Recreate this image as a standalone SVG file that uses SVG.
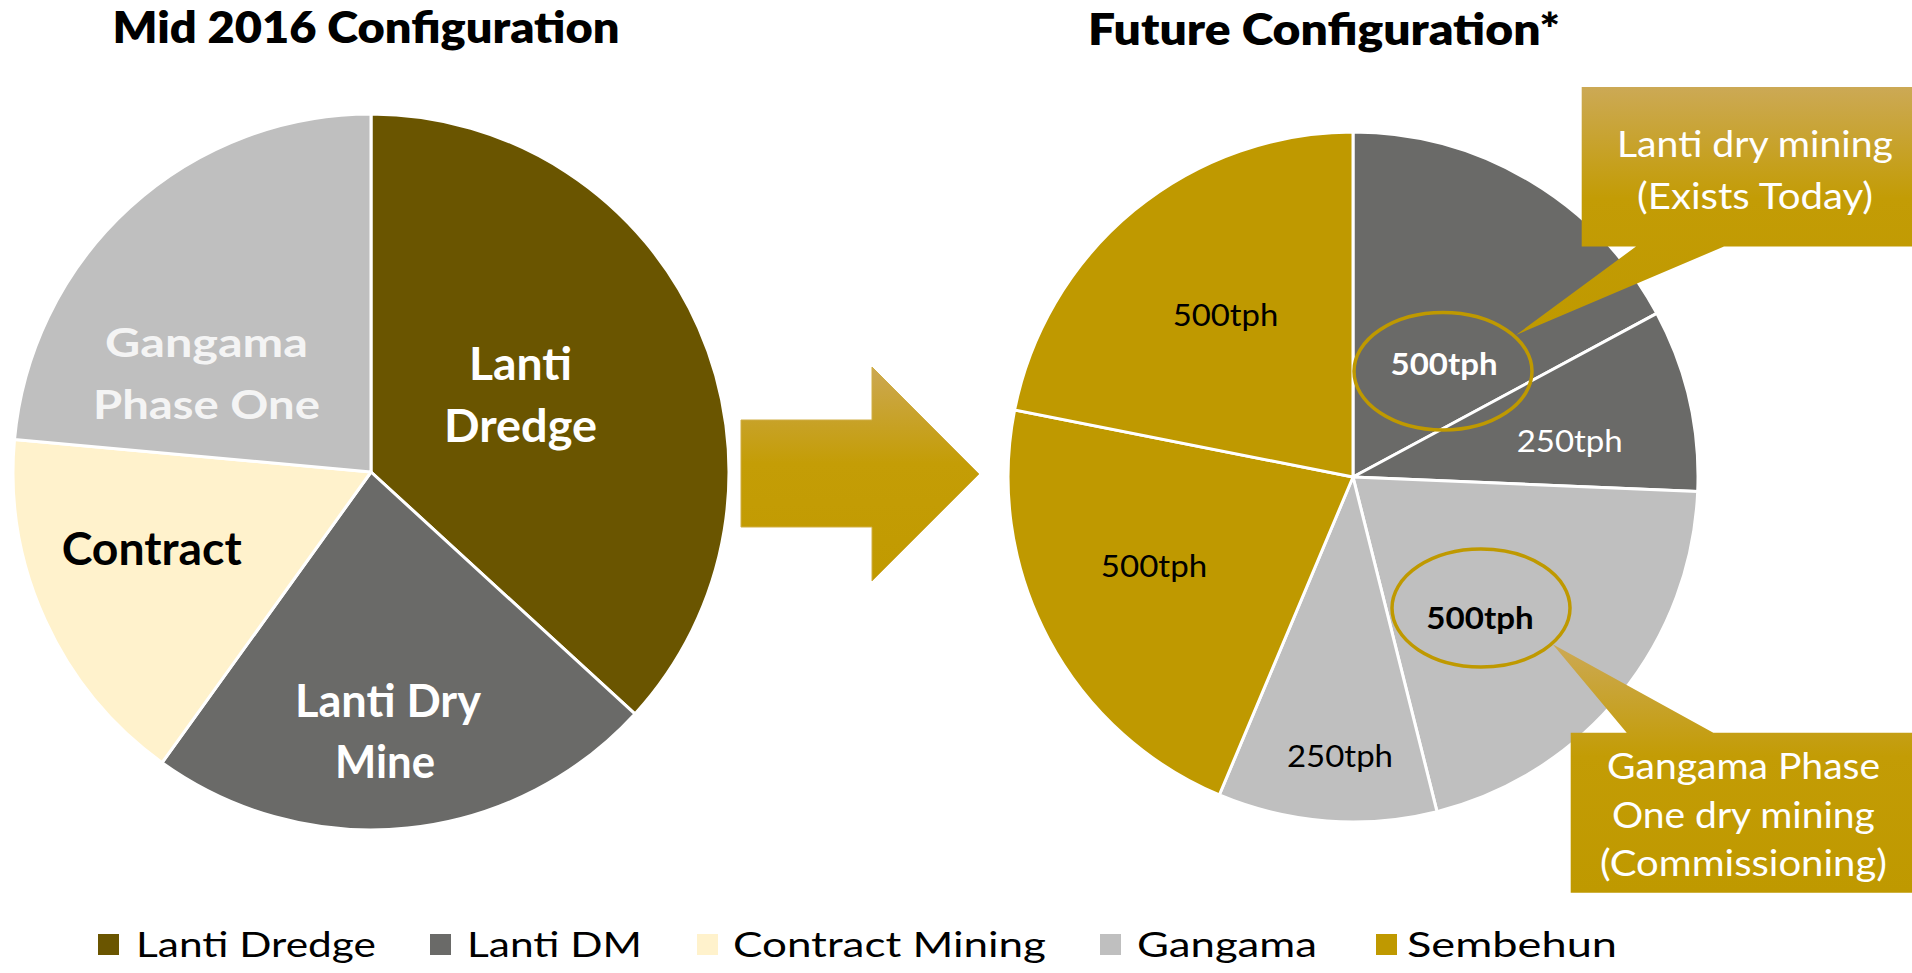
<svg xmlns="http://www.w3.org/2000/svg" width="1912" height="973" viewBox="0 0 1912 973">
<defs>
<linearGradient id="gArrow" x1="0" y1="0" x2="0" y2="1">
<stop offset="0" stop-color="#CCA852"/>
<stop offset="0.45" stop-color="#C49D06"/>
<stop offset="1" stop-color="#C19A00"/>
</linearGradient>
<linearGradient id="gCall" x1="0" y1="0" x2="0" y2="1">
<stop offset="0" stop-color="#CCA955"/>
<stop offset="0.45" stop-color="#C39C05"/>
<stop offset="1" stop-color="#BF9900"/>
</linearGradient>
<style>
text { font-family: Lato, "Liberation Sans", sans-serif; }
.slice { stroke: #FFFFFF; stroke-width: 3; stroke-linejoin: round; }
.ld { fill: #6A5500; }
.dm { fill: #6A6A68; }
.ct { fill: #FFF2CC; }
.gg { fill: #BFBFBF; }
.sb { fill: #BF9900; }
.title { font-weight: 800; font-size: 44px; fill: #000000; text-anchor: middle; }
.lbl { font-weight: 700; font-size: 45px; text-anchor: middle; }
.lbl2 { font-weight: 700; font-size: 41px; text-anchor: middle; fill: #F4F4F4; }
.w { fill: #FFFFFF; }
.k { fill: #000000; }
.tph { font-size: 30px; text-anchor: middle; }
.b { font-weight: 700; }
.call { font-size: 36px; fill: #FFFFFF; text-anchor: middle; }
.leg { font-size: 34px; fill: #000000; }
.ring { fill: none; stroke: #BF9900; stroke-width: 3.5; }
.callout { fill: url(#gCall); }
</style>
</defs>

<g id="title-mid2016">
<text class="title" x="366" y="43" textLength="507" lengthAdjust="spacingAndGlyphs">Mid 2016 Configuration</text>
</g>
<g id="title-future">
<text class="title" x="1324" y="45" textLength="472" lengthAdjust="spacingAndGlyphs">Future Configuration*</text>
</g>

<g id="pie-mid2016">
<g id="slice-lanti-dredge">
<path class="slice ld" d="M371,472 L371,114 A358,358 0 0 1 634.9,713.9 Z"/>
<text class="lbl w" x="520.5" y="380" textLength="103" lengthAdjust="spacingAndGlyphs">Lanti</text>
<text class="lbl w" x="520.5" y="441.7" textLength="153" lengthAdjust="spacingAndGlyphs">Dredge</text>
</g>
<g id="slice-lanti-dry-mine">
<path class="slice dm" d="M371,472 L634.9,713.9 A358,358 0 0 1 162.1,762.7 Z"/>
<text class="lbl w" x="388" y="716.7" textLength="186" lengthAdjust="spacingAndGlyphs">Lanti Dry</text>
<text class="lbl w" x="385" y="778.3" textLength="100" lengthAdjust="spacingAndGlyphs">Mine</text>
</g>
<g id="slice-contract">
<path class="slice ct" d="M371,472 L162.1,762.7 A358,358 0 0 1 14.5,439.6 Z"/>
<text class="lbl k" x="151.7" y="565" textLength="180" lengthAdjust="spacingAndGlyphs">Contract</text>
</g>
<g id="slice-gangama-phase-one">
<path class="slice gg" d="M371,472 L14.5,439.6 A358,358 0 0 1 371,114 Z"/>
<text class="lbl2" x="206.5" y="357" textLength="203" lengthAdjust="spacingAndGlyphs">Gangama</text>
<text class="lbl2" x="206.5" y="419" textLength="227" lengthAdjust="spacingAndGlyphs">Phase One</text>
</g>
</g>

<g id="connectors">
<polygon points="741,420 872,420 872,367 979,474 872,581 872,527 741,527" fill="url(#gArrow)" stroke="#D0AE45" stroke-width="1"/>
</g>

<g id="pie-future">
<g id="slice-lanti-dm-500">
<path class="slice dm" d="M1353,477 L1353,132 A345,345 0 0 1 1656.8,313.4 Z"/>
</g>
<g id="slice-lanti-dm-250">
<path class="slice dm" d="M1353,477 L1656.8,313.4 A345,345 0 0 1 1697.7,491.4 Z"/>
</g>
<g id="slice-gangama-500">
<path class="slice gg" d="M1353,477 L1697.7,491.4 A345,345 0 0 1 1437,811.6 Z"/>
</g>
<g id="slice-gangama-250">
<path class="slice gg" d="M1353,477 L1437,811.6 A345,345 0 0 1 1219.3,795 Z"/>
</g>
<g id="slice-sembehun-lower">
<path class="slice sb" d="M1353,477 L1219.3,795 A345,345 0 0 1 1014.6,410 Z"/>
</g>
<g id="slice-sembehun-upper">
<path class="slice sb" d="M1353,477 L1014.6,410 A345,345 0 0 1 1353,132 Z"/>
</g>
<ellipse class="ring" cx="1443" cy="371.3" rx="89" ry="58.7"/>
<ellipse class="ring" cx="1481" cy="608" rx="89" ry="59"/>
<text class="tph k" x="1225.5" y="325.7" textLength="105.6" lengthAdjust="spacingAndGlyphs">500tph</text>
<text class="tph b w" x="1444" y="375" textLength="107" lengthAdjust="spacingAndGlyphs">500tph</text>
<text class="tph w" x="1569.7" y="452.3" textLength="106" lengthAdjust="spacingAndGlyphs">250tph</text>
<text class="tph k" x="1154" y="577.3" textLength="106.3" lengthAdjust="spacingAndGlyphs">500tph</text>
<text class="tph b k" x="1480" y="629.3" textLength="107.3" lengthAdjust="spacingAndGlyphs">500tph</text>
<text class="tph k" x="1340" y="766.7" textLength="106" lengthAdjust="spacingAndGlyphs">250tph</text>
</g>

<g id="callout-lanti">
<path class="callout" d="M1581.7,87 H1912 V246.5 H1724 L1516,335 L1636,246.5 H1581.7 Z"/>
<text class="call" x="1755" y="157" textLength="276" lengthAdjust="spacingAndGlyphs">Lanti dry mining</text>
<text class="call" x="1755" y="208.5" textLength="236" lengthAdjust="spacingAndGlyphs">(Exists Today)</text>
</g>

<g id="callout-gangama">
<path class="callout" d="M1570.7,732.7 H1626.7 L1552.7,644.3 L1713.3,732.7 H1912 V892.7 H1570.7 Z"/>
<text class="call" x="1743.6" y="778.5" textLength="273" lengthAdjust="spacingAndGlyphs">Gangama Phase</text>
<text class="call" x="1743.4" y="828.3" textLength="263" lengthAdjust="spacingAndGlyphs">One dry mining</text>
<text class="call" x="1743.4" y="876" textLength="287" lengthAdjust="spacingAndGlyphs">(Commissioning)</text>
</g>

<g id="legend">
<g id="legend-lanti-dredge">
<rect x="98" y="934" width="21" height="21" fill="#6A5500"/>
<text class="leg" x="136" y="957" textLength="240" lengthAdjust="spacingAndGlyphs">Lanti Dredge</text>
</g>
<g id="legend-lanti-dm">
<rect x="430" y="934" width="21" height="21" fill="#6A6A68"/>
<text class="leg" x="467" y="957" textLength="175" lengthAdjust="spacingAndGlyphs">Lanti DM</text>
</g>
<g id="legend-contract">
<rect x="697" y="934" width="21" height="21" fill="#FFF2CC"/>
<text class="leg" x="733" y="957" textLength="313" lengthAdjust="spacingAndGlyphs">Contract Mining</text>
</g>
<g id="legend-gangama">
<rect x="1100" y="934" width="21" height="21" fill="#BFBFBF"/>
<text class="leg" x="1137" y="957" textLength="180" lengthAdjust="spacingAndGlyphs">Gangama</text>
</g>
<g id="legend-sembehun">
<rect x="1376" y="934" width="21" height="21" fill="#BF9900"/>
<text class="leg" x="1407" y="957" textLength="210" lengthAdjust="spacingAndGlyphs">Sembehun</text>
</g>
</g>
</svg>
